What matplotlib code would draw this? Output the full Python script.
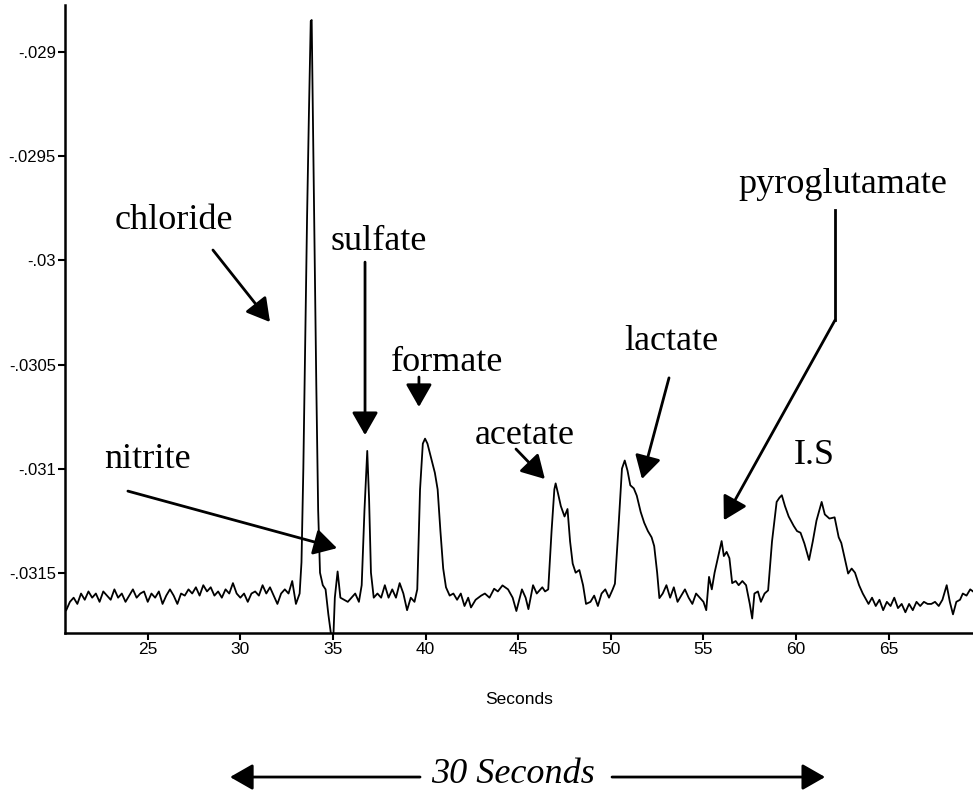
import matplotlib.pyplot as plt
from matplotlib.patches import FancyArrowPatch
import numpy as np

# electropherogram trace (time in s, signal in 1e-6 units)
time_s = [
    20.6, 20.8, 21.0, 21.2, 21.4, 21.6, 21.8, 22.0, 22.2, 22.4, 22.6, 22.8, 23.0, 23.2, 23.4, 23.6,
    23.8, 24.0, 24.2, 24.4, 24.6, 24.8, 25.0, 25.2, 25.4, 25.6, 25.8, 26.0, 26.2, 26.4, 26.6, 26.8,
    27.0, 27.2, 27.4, 27.6, 27.8, 28.0, 28.2, 28.4, 28.6, 28.8, 29.0, 29.2, 29.4, 29.6, 29.8, 30.0,
    30.2, 30.4, 30.6, 30.8, 31.0, 31.2, 31.4, 31.6, 31.8, 32.0, 32.2, 32.4, 32.6, 32.8, 33.0, 33.2,
    33.3, 33.4, 33.5, 33.6, 33.7, 33.8, 33.85, 33.9, 34.0, 34.1, 34.2, 34.3, 34.45, 34.6, 34.75, 34.9,
    35.0, 35.1, 35.25, 35.4, 35.6, 35.8, 36.0, 36.2, 36.4, 36.55, 36.7, 36.85, 36.95, 37.05, 37.2, 37.4,
    37.6, 37.8, 38.0, 38.2, 38.4, 38.6, 38.8, 39.0, 39.2, 39.4, 39.55, 39.7, 39.85, 39.97, 40.1, 40.3,
    40.5, 40.65, 40.8, 40.95, 41.1, 41.3, 41.5, 41.7, 41.9, 42.1, 42.3, 42.45, 42.7, 43.0, 43.2, 43.45,
    43.7, 43.9, 44.15, 44.45, 44.7, 44.9, 45.2, 45.4, 45.55, 45.8, 46.0, 46.3, 46.45, 46.62, 46.8, 46.95,
    47.02, 47.15, 47.3, 47.5, 47.66, 47.8, 47.94, 48.1, 48.3, 48.5, 48.66, 48.9, 49.1, 49.3, 49.5, 49.7,
    49.9, 50.1, 50.22, 50.4, 50.6, 50.75, 50.9, 51.05, 51.24, 51.4, 51.61, 51.8, 52.0, 52.2, 52.34, 52.5,
    52.62, 52.8, 53.0, 53.2, 53.4, 53.6, 53.8, 54.0, 54.2, 54.4, 54.6, 54.8, 55.0, 55.15, 55.3, 55.45,
    55.6, 55.8, 55.98, 56.1, 56.25, 56.4, 56.55, 56.74, 56.9, 57.1, 57.3, 57.5, 57.63, 57.75, 57.94, 58.1,
    58.3, 58.49, 58.7, 58.95, 59.1, 59.23, 59.4, 59.6, 59.87, 60.05, 60.24, 60.45, 60.7, 60.9, 61.1, 61.38,
    61.55, 61.8, 62.08, 62.3, 62.44, 62.6, 62.81, 63.0, 63.18, 63.4, 63.6, 63.91, 64.1, 64.3, 64.5, 64.7,
    64.9, 65.1, 65.3, 65.5, 65.7, 65.9, 66.1, 66.3, 66.5, 66.7, 66.9, 67.1, 67.3, 67.5, 67.7, 67.9,
    68.13, 68.3, 68.47, 68.65, 68.85, 69.0, 69.2, 69.4, 69.55,
]
signal_u = [
    -31680, -31640, -31620, -31650, -31600, -31630, -31590, -31620, -31600, -31640, -31590, -31610, -31630, -31580, -31620, -31600,
    -31640, -31610, -31580, -31620, -31600, -31590, -31640, -31600, -31620, -31590, -31650, -31610, -31580, -31610, -31650, -31600,
    -31610, -31580, -31600, -31570, -31610, -31560, -31590, -31570, -31610, -31590, -31620, -31580, -31600, -31550, -31600, -31620,
    -31600, -31640, -31600, -31590, -31610, -31560, -31600, -31570, -31610, -31650, -31600, -31580, -31600, -31540, -31650, -31600,
    -31450, -31000, -30400, -29800, -29300, -28850, -28845, -29200, -29900, -30600, -31200, -31500, -31560, -31580, -31700, -31800,
    -31860, -31620, -31494, -31620, -31630, -31640, -31620, -31600, -31640, -31560, -31200, -30915, -31150, -31500, -31620, -31600,
    -31620, -31560, -31620, -31580, -31620, -31550, -31600, -31680, -31620, -31640, -31580, -31100, -30880, -30856, -30880, -30950,
    -31020, -31100, -31300, -31480, -31570, -31610, -31600, -31630, -31600, -31660, -31620, -31667, -31630, -31610, -31600, -31620,
    -31577, -31590, -31561, -31580, -31620, -31684, -31580, -31620, -31675, -31560, -31600, -31570, -31590, -31580, -31300, -31100,
    -31071, -31120, -31180, -31230, -31194, -31350, -31456, -31500, -31487, -31560, -31650, -31640, -31610, -31660, -31600, -31580,
    -31620, -31580, -31553, -31300, -31000, -30961, -31010, -31080, -31095, -31130, -31208, -31260, -31300, -31330, -31372, -31500,
    -31622, -31600, -31560, -31620, -31570, -31640, -31610, -31580, -31620, -31650, -31600, -31620, -31640, -31680, -31520, -31580,
    -31500, -31420, -31348, -31420, -31400, -31430, -31550, -31540, -31560, -31540, -31560, -31650, -31720, -31600, -31590, -31640,
    -31600, -31585, -31350, -31160, -31140, -31128, -31180, -31230, -31275, -31300, -31308, -31360, -31439, -31350, -31250, -31160,
    -31220, -31240, -31234, -31330, -31357, -31420, -31504, -31480, -31500, -31560, -31600, -31650, -31620, -31660, -31630, -31680,
    -31640, -31660, -31620, -31670, -31650, -31690, -31650, -31680, -31640, -31660, -31640, -31650, -31650, -31640, -31660, -31630,
    -31560, -31640, -31700, -31640, -31630, -31600, -31610, -31580, -31590,
]
signal = np.array(signal_u) * 1e-6

y_ticks = [-0.029, -0.0295, -0.03, -0.0305, -0.031, -0.0315]
y_tick_labels = ['-.029', '-.0295', '-.03', '-.0305', '-.031', '-.0315']
x_ticks = [25, 30, 35, 40, 45, 50, 55, 60, 65]

# peak labels: (text, text position, arrow start, arrow tip) in data coords
peak_labels = [
    ('chloride', (26.42, -0.029806), (28.52, -0.029950), (31.60, -0.030296)),
    ('sulfate', (37.48, -0.029908), (36.73, -0.030008), (36.73, -0.030839)),
    ('formate', (41.15, -0.030488), (39.64, -0.030560), (39.64, -0.030704)),
    ('nitrite', (25.01, -0.030954), (23.93, -0.031108), (35.22, -0.031382)),
    ('acetate', (45.37, -0.030843), (44.88, -0.030906), (46.44, -0.031050)),
    ('lactate', (53.24, -0.030391), (53.14, -0.030564), (51.68, -0.031050)),
]

sans = ['Liberation Sans', 'DejaVu Sans']
serif = ['Liberation Serif', 'DejaVu Serif']
head = '-|>,head_length=0.7,head_width=0.4'

fig = plt.figure(figsize=(9.73, 7.95), dpi=100)
ax = fig.add_axes([0.0673, 0.2042, 0.9327, 0.7895])

ax.plot(time_s, signal, color='black', lw=1.3)
ax.set_xlim(20.56, 69.55)
ax.set_ylim(-0.031788, -0.028773)

ax.set_xticks(x_ticks)
ax.set_xticklabels([str(t) for t in x_ticks], family=sans, fontsize=12.5)
ax.set_yticks(y_ticks)
ax.set_yticklabels(y_tick_labels, family=sans, fontsize=12)
ax.tick_params(direction='out', length=5, width=1.5, pad=2)
for side in ['top', 'right']:
    ax.spines[side].set_visible(False)
for side in ['left', 'bottom']:
    ax.spines[side].set_linewidth(1.8)

ax.set_xlabel('Seconds', family=sans, fontsize=12.5)
ax.xaxis.set_label_coords(0.5, -0.095)

for name, txt, start, tip in peak_labels:
    ax.text(txt[0], txt[1], name, family=serif, fontsize=26, ha='center', va='center')
    ax.annotate('', xy=tip, xytext=start, annotation_clip=False,
                arrowprops=dict(arrowstyle=head, lw=2, color='black',
                                mutation_scale=20, shrinkA=0, shrinkB=0))

# pyroglutamate: bent arrow
ax.text(62.53, -0.029633, 'pyroglutamate', family=serif, fontsize=26, ha='center', va='center')
ax.plot([62.10, 62.10], [-0.029758, -0.030287], color='black', lw=2)
ax.annotate('', xy=(56.10, -0.031248), xytext=(62.10, -0.030287),
            arrowprops=dict(arrowstyle=head, lw=2, color='black',
                            mutation_scale=20, shrinkA=0, shrinkB=0))
ax.text(60.97, -0.030939, 'I.S', family=serif, fontsize=26, ha='center', va='center')

# 30 second span marker under the axis
fig.text(0.527, 0.0252, '30 Seconds', family=serif, style='italic', fontsize=26,
         ha='center', va='center')
for start, tip in [(0.4317, 0.2364), (0.629, 0.848)]:
    fig.add_artist(FancyArrowPatch(
        (start, 0.0226), (tip, 0.0226), transform=fig.transFigure,
        arrowstyle=head, mutation_scale=20, lw=2, color='black',
        shrinkA=0, shrinkB=0))

fig.savefig('out.png', dpi=100)
